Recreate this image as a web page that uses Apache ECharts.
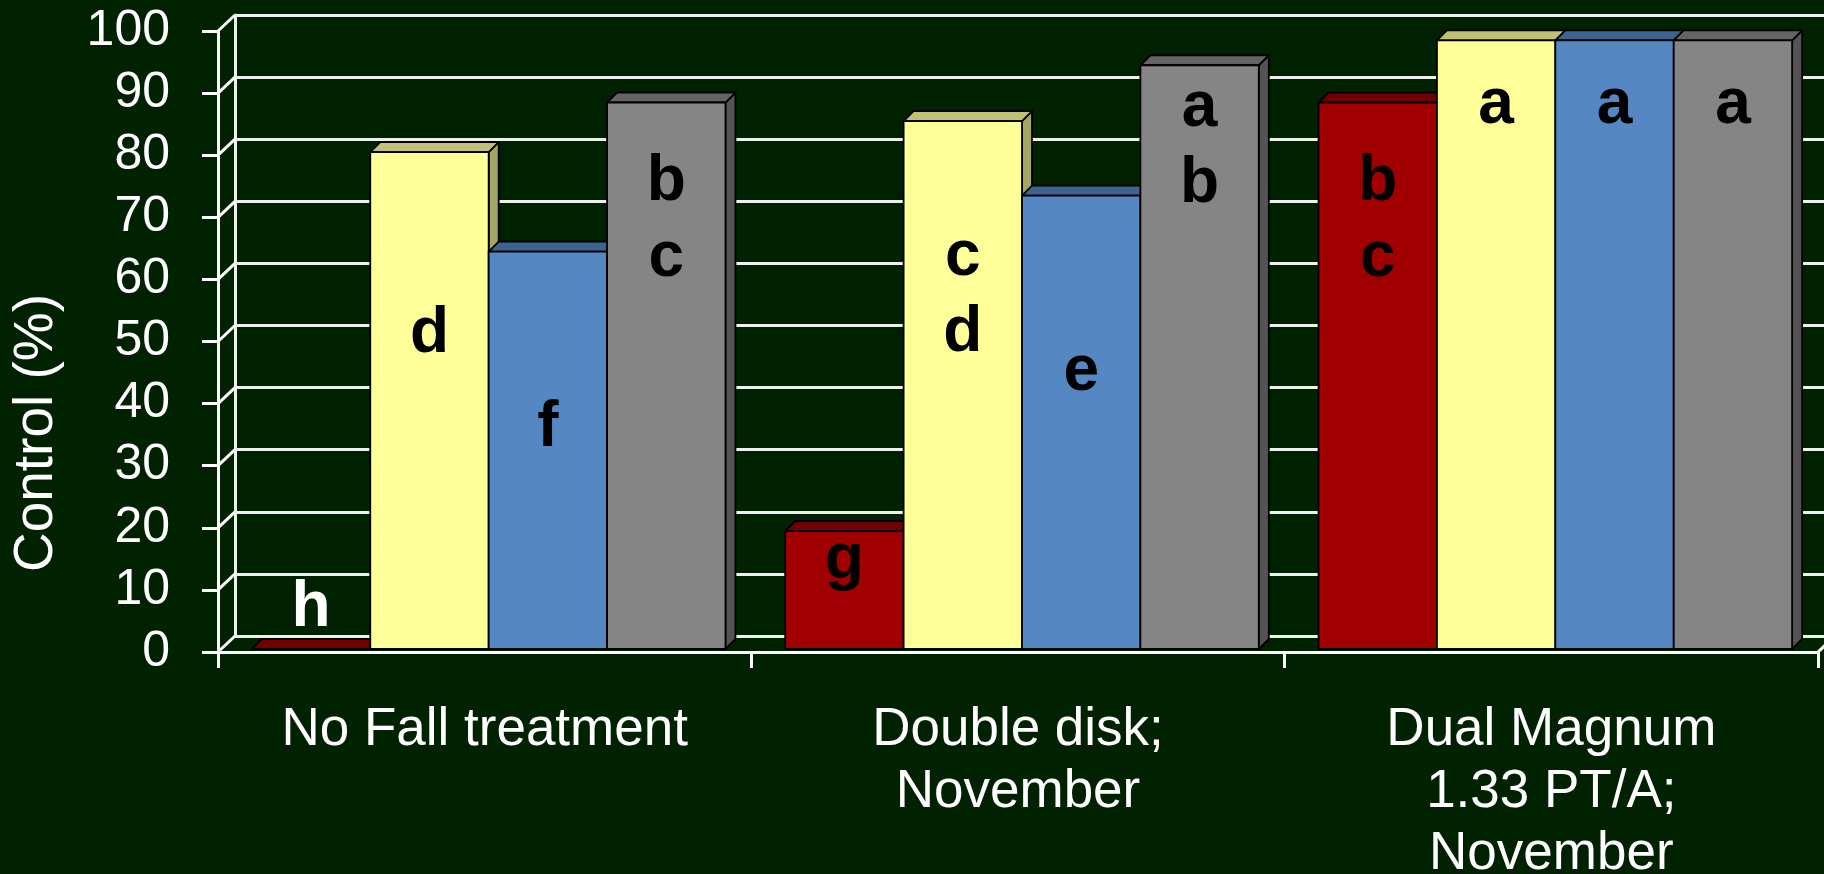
<!DOCTYPE html>
<html>
<head>
<meta charset="utf-8">
<script src="https://cdn.jsdelivr.net/npm/echarts@6/dist/echarts.min.js"></script>
<style>
  html, body { margin: 0; padding: 0; background: #002200; }
  #main { width: 1824px; height: 874px; }
</style>
</head>
<body>
<div id="main"></div>
<script>
// categories on the x axis
var categories = ['No Fall treatment', 'Double disk;\nNovember', 'Dual Magnum\n1.33 PT/A;\nNovember'];

// control (%) per treatment, one array per bar colour
var redValues = [0, 19, 88];
var yellowValues = [80, 85, 98];
var blueValues = [64, 73, 98];
var greyValues = [88, 94, 98];

// significance letters written on the bars
var redLetters = ['h', 'g', 'b\nc'];
var yellowLetters = ['d', 'c\nd', 'a'];
var blueLetters = ['f', 'e', 'a'];
var greyLetters = ['b\nc', 'a\nb', 'a'];

// height (in % units) where each letter block is centred
var redLetterAt = [6.5, 14.2, 69];
var yellowLetterAt = [50.7, 57, 87.5];
var blueLetterAt = [35.6, 44.6, 87.5];
var greyLetterAt = [69, 81, 87.5];

var yTicks = [0, 10, 20, 30, 40, 50, 60, 70, 80, 90, 100];

var FONT = '"Liberation Sans", Arial, sans-serif';

var chartDom = document.getElementById('main');
var myChart = echarts.init(chartDom, null, {renderer: 'canvas'});

// 3d column: right side, top, front
function boxRenderer(slot, colors, letters, letterAt) {
    return function (params, api) {
        var cat = api.value(0);
        var val = api.value(1);
        var base = api.coord([cat, 0]);
        var top = api.coord([cat, val]);
        var catW = api.size([1, 0])[0];
        var w = catW * 0.222;
        var x0 = base[0] - 2 * w + slot * w + 4;
        var x1 = x0 + w;
        var yb = base[1] - 3;
        var yt = top[1] - 3;
        var dx = 10, dy = 10;
        var edge = {stroke: '#000', lineWidth: 1.8, lineJoin: 'round'};
        var children = [
            {
                type: 'polygon',
                shape: {points: [[x1, yt], [x1 + dx, yt - dy], [x1 + dx, yb - dy], [x1, yb]]},
                style: Object.assign({fill: colors.side}, edge)
            },
            {
                type: 'polygon',
                shape: {points: [[x0, yt], [x0 + dx, yt - dy], [x1 + dx, yt - dy], [x1, yt]]},
                style: Object.assign({fill: colors.top}, edge)
            },
            {
                type: 'rect',
                shape: {x: x0, y: yt, width: w, height: yb - yt},
                style: Object.assign({fill: colors.front}, edge)
            }
        ];
        var i = params.dataIndex;
        var at = api.coord([cat, letterAt[i]]);
        children.push({
            type: 'text',
            x: (x0 + x1) / 2,
            y: at[1] - 3,
            style: {
                text: letters[i],
                // letters sitting above a bar are on the dark background
                fill: letterAt[i] > val ? '#ffffff' : '#000000',
                fontFamily: FONT,
                fontWeight: 'bold',
                fontSize: 64,
                lineHeight: 76,
                align: 'center',
                verticalAlign: 'middle'
            }
        });
        return {type: 'group', children: children};
    };
}

function toData(values) {
    return values.map(function (v, i) { return [i, v]; });
}

var palette = [
    {front: '#a00000', top: '#700000', side: '#5e0000'},
    {front: '#ffff99', top: '#c0c078', side: '#a6a664'},
    {front: '#5587c3', top: '#3d6390', side: '#30507a'},
    {front: '#858585', top: '#646464', side: '#545454'}
];

var allValues = [redValues, yellowValues, blueValues, greyValues];
var allLetters = [redLetters, yellowLetters, blueLetters, greyLetters];
var allLetterAt = [redLetterAt, yellowLetterAt, blueLetterAt, greyLetterAt];

var barSeries = allValues.map(function (vals, k) {
    return {
        type: 'custom',
        xAxisIndex: 0,
        yAxisIndex: 0,
        z: 5,
        encode: {x: 0, y: 1},
        renderItem: boxRenderer(k, palette[k], allLetters[k], allLetterAt[k]),
        data: toData(vals)
    };
});

// diagonal ticks joining the front axis to the back wall
var depthSeries = {
    type: 'custom',
    xAxisIndex: 0,
    yAxisIndex: 0,
    z: 3,
    encode: {x: 0, y: 1},
    renderItem: function (params, api) {
        var p = api.coord([0, api.value(1)]);
        var x = params.coordSys.x;
        var line = {stroke: '#ffffff', lineWidth: 3};
        var kids = [{type: 'line', shape: {x1: x, y1: p[1], x2: x + 17, y2: p[1] - 16}, style: line}];
        if (api.value(1) === 0) {
            var xr = x + params.coordSys.width;
            kids.push({type: 'line', shape: {x1: xr, y1: p[1], x2: xr + 17, y2: p[1] - 16}, style: line});
        }
        return {type: 'group', children: kids};
    },
    data: yTicks.map(function (v) { return [0, v]; })
};

var option = {
    backgroundColor: '#002200',
    animation: false,
    grid: [
        {left: 218, right: 6, top: 31, bottom: 222, outerBoundsMode: 'none'},
        {left: 235, width: 1600, top: 15, height: 621, outerBoundsMode: 'none'}
    ],
    xAxis: [
        {
            type: 'category',
            gridIndex: 0,
            data: categories,
            axisLine: {lineStyle: {color: '#ffffff', width: 3}},
            axisTick: {show: true, interval: 0, length: 16, lineStyle: {color: '#ffffff', width: 3}},
            axisLabel: {
                interval: 0,
                color: '#ffffff',
                fontFamily: FONT,
                fontSize: 53,
                lineHeight: 62,
                margin: 47
            },
            splitLine: {show: false}
        },
        {
            type: 'category',
            gridIndex: 1,
            data: categories,
            show: false
        }
    ],
    yAxis: [
        {
            type: 'value',
            gridIndex: 0,
            min: 0,
            max: 100,
            interval: 10,
            axisLine: {show: true, lineStyle: {color: '#ffffff', width: 3}},
            axisTick: {show: true, length: 16, lineStyle: {color: '#ffffff', width: 3}},
            axisLabel: {color: '#ffffff', fontFamily: FONT, fontSize: 50, margin: 48},
            splitLine: {show: false}
        },
        {
            type: 'value',
            gridIndex: 1,
            min: 0,
            max: 100,
            interval: 10,
            axisLine: {show: true, lineStyle: {color: '#eef2ee', width: 3}},
            axisTick: {show: false},
            axisLabel: {show: false},
            splitLine: {show: true, lineStyle: {color: '#eef2ee', width: 3}}
        }
    ],
    graphic: [
        {
            type: 'text',
            x: 37,
            y: 433,
            rotation: Math.PI / 2,
            style: {
                text: 'Control (%)',
                fill: '#ffffff',
                fontFamily: FONT,
                fontSize: 55,
                align: 'center',
                verticalAlign: 'middle'
            }
        }
    ],
    series: [depthSeries].concat(barSeries)
};

option && myChart.setOption(option);
</script>
</body>
</html>
